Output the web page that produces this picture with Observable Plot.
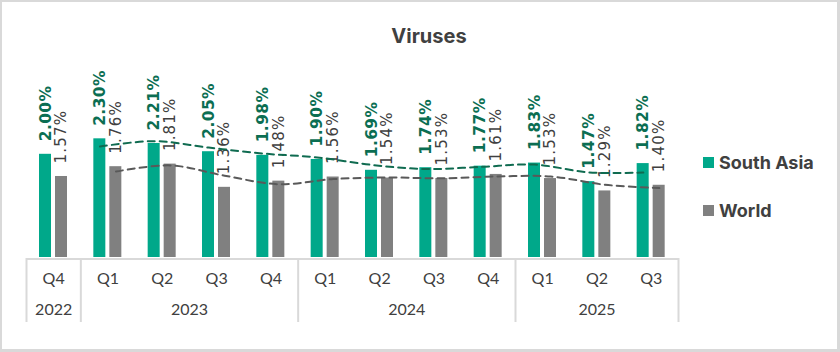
<!DOCTYPE html>
<html>
<head>
<meta charset="utf-8">
<script src="https://cdn.jsdelivr.net/npm/d3@7"></script>
<script src="https://cdn.jsdelivr.net/npm/@observablehq/plot@0.6"></script>
<style>
  html, body { margin: 0; padding: 0; background: #fff; }
  #wrap { position: relative; width: 840px; height: 352px; overflow: hidden; background: #fff; }
  #frame { position: absolute; left: 0; top: 0; width: 840px; height: 352px; box-sizing: border-box;
           border-style: solid; border-color: #d9d9d9; border-width: 2px 3px 3px 2px; pointer-events: none; }
  #chart { position: absolute; left: 0; top: 0; }
  #title { position: absolute; left: 329px; width: 200px; top: 26px; text-align: center;
           font-family: Inter, "Open Sans", sans-serif; font-weight: 700; font-size: 20px; line-height: 20px; color: #404040; }
  .leg { position: absolute; left: 703px; height: 20px; display: flex; align-items: center; gap: 5px;
         font-family: Inter, "Open Sans", sans-serif; font-weight: 700; font-size: 18px; color: #404040; }
  .sw { width: 11px; height: 11px; display: inline-block; }
</style>
</head>
<body>
<div id="wrap">
  <div id="chart"></div>
  <div id="title">Viruses</div>
  <div id="legend"></div>
  <div id="frame"></div>
</div>
<script>
// ---- data ----
const quarters = ["Q4", "Q1", "Q2", "Q3", "Q4", "Q1", "Q2", "Q3", "Q4", "Q1", "Q2", "Q3"];
const years    = ["2022", "2023", "2023", "2023", "2023", "2024", "2024", "2024", "2024", "2025", "2025", "2025"];
const seriesNames = ["South Asia", "World"];
const southAsia = [2.00, 2.30, 2.21, 2.05, 1.98, 1.90, 1.69, 1.74, 1.77, 1.83, 1.47, 1.82];
const world     = [1.57, 1.76, 1.81, 1.36, 1.48, 1.56, 1.54, 1.53, 1.61, 1.53, 1.29, 1.40];
// dashed trendlines (2-period moving average)
const southAsiaTrend = [null, 2.15, 2.255, 2.13, 2.015, 1.94, 1.795, 1.715, 1.755, 1.80, 1.65, 1.645];
const worldTrend     = [null, 1.665, 1.785, 1.585, 1.42, 1.52, 1.55, 1.535, 1.57, 1.57, 1.41, 1.345];

const colors = {"South Asia": "#00a88a", "World": "#808080"};
const labelColors = {"South Asia": "#0b6e52", "World": "#404040"};
const trendColors = {"South Asia": "#0f6b50", "World": "#595959"};

const rows = quarters.map((q, i) => ({
  i, q, year: years[i], sa: southAsia[i], w: world[i], saT: southAsiaTrend[i], wT: worldTrend[i]
}));
const yearGroups = d3.groups(rows, d => d.year).map(([year, rs]) => ({
  year, first: d3.min(rs, d => d.i), last: d3.max(rs, d => d.i)
}));
const boundaries = [...yearGroups.map(g => g.first - 0.5), rows.length - 0.5];

const axisFont = "Lato, 'Open Sans', sans-serif";
const labelFont = "'DejaVu Sans', sans-serif";

const chart = Plot.plot({
  width: 840,
  height: 352,
  marginLeft: 26,
  marginRight: 162,
  marginTop: 20,
  marginBottom: 30,
  x: {type: "linear", domain: [-0.5, rows.length - 0.5], axis: null},
  y: {domain: [0, 3], range: [257, 102.2], axis: null},
  marks: [
    Plot.rectY(rows, {x1: d => d.i - 0.5, x2: d => d.i + 0.5, y: "sa", fill: colors["South Asia"], insetLeft: 13, insetRight: 29.33}),
    Plot.rectY(rows, {x1: d => d.i - 0.5, x2: d => d.i + 0.5, y: "w", fill: colors["World"], insetLeft: 29, insetRight: 13.33}),
    Plot.ruleY([0], {stroke: "#d9d9d9", strokeWidth: 2, dy: 1.5}),
    Plot.ruleX(boundaries, {x: d => d, stroke: "#d9d9d9", strokeWidth: 2, insetTop: 238}),
    Plot.text(rows, {x: "i", text: "q", frameAnchor: "bottom", lineAnchor: "middle", dy: -43.5,
      fontFamily: axisFont, fontSize: 16, fill: "#404040"}),
    Plot.text(yearGroups, {x: d => (d.first + d.last) / 2, text: "year", frameAnchor: "bottom", lineAnchor: "middle", dy: -12.3,
      fontFamily: axisFont, fontSize: 16, fill: "#404040"}),
    Plot.text(rows, {x: "i", y: "sa", text: d => d.sa.toFixed(2) + "%", rotate: -90, textAnchor: "start", lineAnchor: "middle",
      dx: -8, dy: -13, fill: labelColors["South Asia"], fontWeight: "bold", fontSize: 15.5, fontFamily: labelFont}),
    Plot.text(rows, {x: "i", y: "w", text: d => d.w.toFixed(2) + "%", rotate: -90, textAnchor: "start", lineAnchor: "middle",
      dx: 8, dy: -13, fill: labelColors["World"], fontSize: 15, fontFamily: labelFont}),
    Plot.line(rows.filter(d => d.saT != null), {x: "i", y: "saT", dx: -8, stroke: trendColors["South Asia"], strokeWidth: 2,
      strokeDasharray: "7,5", curve: "catmull-rom"}),
    Plot.line(rows.filter(d => d.wT != null), {x: "i", y: "wT", dx: 8, stroke: trendColors["World"], strokeWidth: 2,
      strokeDasharray: "7,5", curve: "catmull-rom"})
  ]
});
// letter spacing for the value labels (spaced look of the reference)
chart.querySelectorAll("g[aria-label='text']").forEach((g, k) => {
  if (k === 3) g.setAttribute("letter-spacing", "1.2");
  if (k === 2) g.setAttribute("letter-spacing", "0.4");
});
document.getElementById("chart").appendChild(chart);

const legend = document.getElementById("legend");
const legendTops = [152, 200.5];
seriesNames.forEach((name, k) => {
  const row = document.createElement("div");
  row.className = "leg";
  row.style.top = legendTops[k] + "px";
  const sw = document.createElement("span");
  sw.className = "sw";
  sw.style.background = colors[name];
  const tx = document.createElement("span");
  tx.textContent = name;
  row.appendChild(sw);
  row.appendChild(tx);
  legend.appendChild(row);
});
</script>
</body>
</html>
